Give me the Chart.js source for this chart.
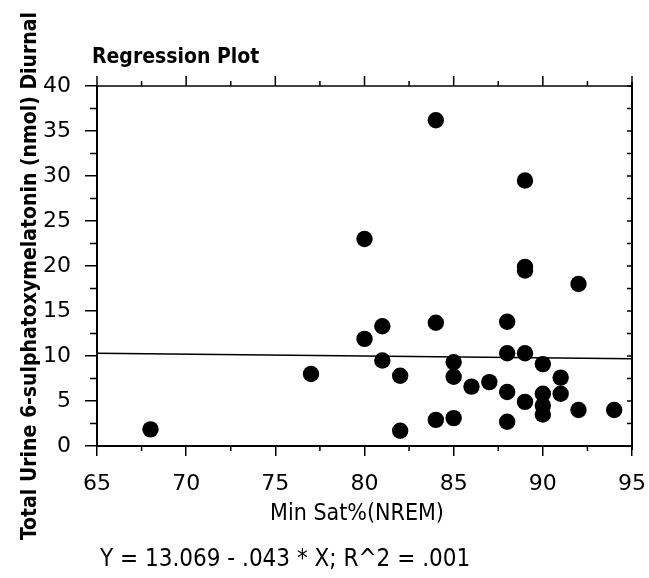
<!DOCTYPE html>
<html>
<head>
<meta charset="utf-8">
<script src="https://cdn.jsdelivr.net/npm/chart.js@4.4.1/dist/chart.umd.min.js"></script>
<style>
  html, body { margin: 0; padding: 0; background: #fff; }
  canvas { display: block; }
</style>
</head>
<body>
<canvas id="regChart" width="649" height="578"></canvas>
<script>
// values
const minSat = [68, 77, 80, 80, 81, 81, 82, 82, 84, 84, 84, 85, 85, 85, 86, 87,
                88, 88, 88, 88, 89, 89, 89, 89, 89, 90, 90, 90, 90, 91, 91, 92, 92, 94];
const melatonin = [1.85, 8.0, 23.0, 11.9, 13.3, 9.5, 7.8, 1.7, 36.2, 13.7, 2.9, 9.3, 7.7, 3.1, 6.6, 7.1,
                   13.8, 10.3, 6.0, 2.7, 29.5, 19.9, 19.5, 10.3, 4.9, 9.1, 5.8, 4.5, 3.5, 7.6, 5.8, 18.0, 4.0, 4.0];
const fitX = [65, 95];
const fitY = [10.3, 9.7];
const xTicks = [65, 70, 75, 80, 85, 90, 95];
const yTicks = [0, 5, 10, 15, 20, 25, 30, 35, 40];

const plotTitle = 'Regression Plot';
const xTitle = 'Min Sat%(NREM)';
const yTitle = 'Total Urine 6-sulphatoxymelatonin (nmol) Diurnal';
const footer = 'Y = 13.069 - .043 * X; R^2 = .001';

const points = minSat.map((v, i) => ({ x: v, y: melatonin[i] }));
const fitLine = fitX.map((v, i) => ({ x: v, y: fitY[i] }));

// frame, minor ticks and the texts around the plot
const decorations = {
    id: 'decorations',
    afterDraw(chart) {
        const { ctx, chartArea: a, scales: { x, y } } = chart;
        ctx.save();
        ctx.strokeStyle = '#000';
        ctx.lineWidth = 1.5;
        ctx.beginPath();
        ctx.moveTo(a.left, a.top);
        ctx.lineTo(a.right + 1, a.top);
        ctx.stroke();
        ctx.lineWidth = 2;
        ctx.beginPath();
        ctx.moveTo(a.right, a.top - 4);
        ctx.lineTo(a.right, a.bottom + 4);
        ctx.stroke();

        ctx.lineWidth = 1.5;
        ctx.beginPath();
        for (let v = x.min; v <= x.max; v += 2.5) {
            const px = x.getPixelForValue(v);
            const major = v % 5 === 0;
            ctx.moveTo(px, a.top);
            ctx.lineTo(px, a.top - (major ? 10 : 5));
            if (!major) {
                ctx.moveTo(px, a.bottom);
                ctx.lineTo(px, a.bottom + 5);
            }
        }
        for (let v = y.min; v <= y.max; v += 2.5) {
            const py = y.getPixelForValue(v);
            if (v % 5 !== 0) {
                ctx.moveTo(a.left, py);
                ctx.lineTo(a.left - 7, py);
            }
            ctx.moveTo(a.right, py);
            ctx.lineTo(a.right - 5, py);
        }
        ctx.stroke();

        ctx.fillStyle = '#000';
        ctx.textBaseline = 'alphabetic';
        ctx.textAlign = 'left';
        ctx.font = 'bold 21px "DejaVu Sans Condensed", "DejaVu Sans", sans-serif';
        ctx.fillText(plotTitle, 92, 63);

        ctx.textAlign = 'center';
        ctx.font = '23px "DejaVu Sans Condensed", "DejaVu Sans", sans-serif';
        ctx.fillText(xTitle, 357, 520);

        ctx.textAlign = 'left';
        ctx.font = '24px "DejaVu Sans Condensed", "DejaVu Sans", sans-serif';
        ctx.fillText(footer, 100, 566);

        ctx.translate(35.5, 276);
        ctx.rotate(-Math.PI / 2);
        ctx.textAlign = 'center';
        ctx.font = 'bold 21px "DejaVu Sans Condensed", "DejaVu Sans", sans-serif';
        ctx.fillText(yTitle, 0, 0);
        ctx.restore();
    }
};

new Chart(document.getElementById('regChart'), {
    type: 'scatter',
    data: {
        datasets: [{
            label: 'Subjects',
            data: points,
            backgroundColor: '#000',
            borderWidth: 0,
            pointRadius: 8.2,
            pointHoverRadius: 8.2
        }, {
            type: 'line',
            label: 'Fit',
            data: fitLine,
            borderColor: '#000',
            borderWidth: 1.5,
            pointRadius: 0,
            fill: false
        }]
    },
    options: {
        responsive: false,
        animation: false,
        devicePixelRatio: 1,
        layout: { padding: { left: 0, right: 17, top: 86, bottom: 0 } },
        plugins: {
            legend: { display: false },
            tooltip: { enabled: false }
        },
        scales: {
            x: {
                type: 'linear',
                min: 65,
                max: 95,
                afterFit: s => { s.height = 132; s.paddingLeft = 0; s.paddingRight = 0; },
                afterBuildTicks: s => { s.ticks = xTicks.map(v => ({ value: v })); },
                ticks: {
                    color: '#000',
                    padding: 15,
                    font: { family: '"DejaVu Sans", sans-serif', size: 22 }
                },
                grid: { drawOnChartArea: false, color: '#000', lineWidth: 1.5, tickLength: 10 },
                border: { display: true, color: '#000', width: 2 }
            },
            y: {
                min: 0,
                max: 40,
                afterFit: s => { s.width = 97; s.paddingTop = 0; s.paddingBottom = 0; },
                afterBuildTicks: s => { s.ticks = yTicks.map(v => ({ value: v })); },
                ticks: {
                    color: '#000',
                    padding: 14,
                    font: { family: '"DejaVu Sans", sans-serif', size: 22 }
                },
                grid: { drawOnChartArea: false, color: '#000', lineWidth: 1.5, tickLength: 12 },
                border: { display: true, color: '#000', width: 2 }
            }
        }
    },
    plugins: [decorations]
});
</script>
</body>
</html>
